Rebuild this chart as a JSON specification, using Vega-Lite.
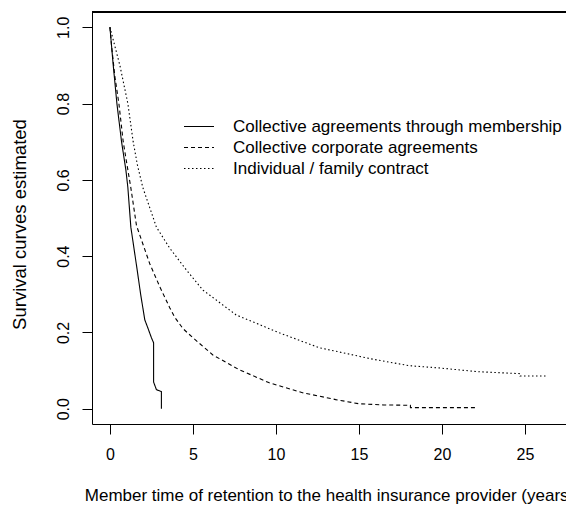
{
  "$schema": "https://vega.github.io/schema/vega-lite/v6.json",
  "autosize": {"type": "none"},
  "width": 474,
  "height": 412,
  "padding": {"left": 92, "top": 12, "right": 0, "bottom": 83},
  "background": "white",
  "config": {
    "view": {"stroke": null},
    "font": "Liberation Sans",
    "axis": {
      "grid": false,
      "domainColor": "black",
      "tickColor": "black",
      "tickSize": 10,
      "labelFont": "Liberation Sans",
      "labelFontSize": 16,
      "labelColor": "black",
      "titleFont": "Liberation Sans",
      "titleFontSize": 17,
      "titleFontWeight": "normal",
      "titleColor": "black"
    }
  },
  "data": {
    "values": [
      {"g": "Collective agreements through membership", "i": 1, "t": 0, "s": 1.0},
      {"g": "Collective agreements through membership", "i": 2, "t": 0.1, "s": 0.95},
      {"g": "Collective agreements through membership", "i": 3, "t": 0.2, "s": 0.9},
      {"g": "Collective agreements through membership", "i": 4, "t": 0.42, "s": 0.8},
      {"g": "Collective agreements through membership", "i": 5, "t": 0.7, "s": 0.7},
      {"g": "Collective agreements through membership", "i": 6, "t": 0.96, "s": 0.626},
      {"g": "Collective agreements through membership", "i": 7, "t": 1.08, "s": 0.58},
      {"g": "Collective agreements through membership", "i": 8, "t": 1.26, "s": 0.476},
      {"g": "Collective agreements through membership", "i": 9, "t": 1.45, "s": 0.42},
      {"g": "Collective agreements through membership", "i": 10, "t": 1.64, "s": 0.364},
      {"g": "Collective agreements through membership", "i": 11, "t": 1.85, "s": 0.3},
      {"g": "Collective agreements through membership", "i": 12, "t": 2.1, "s": 0.233},
      {"g": "Collective agreements through membership", "i": 13, "t": 2.3, "s": 0.21},
      {"g": "Collective agreements through membership", "i": 14, "t": 2.5, "s": 0.186},
      {"g": "Collective agreements through membership", "i": 15, "t": 2.63, "s": 0.173},
      {"g": "Collective agreements through membership", "i": 16, "t": 2.63, "s": 0.07},
      {"g": "Collective agreements through membership", "i": 17, "t": 2.8, "s": 0.05},
      {"g": "Collective agreements through membership", "i": 18, "t": 3.1, "s": 0.045},
      {"g": "Collective agreements through membership", "i": 19, "t": 3.1, "s": 0.0},
      {"g": "Collective corporate agreements", "i": 1, "t": 0, "s": 1.0},
      {"g": "Collective corporate agreements", "i": 2, "t": 0.1, "s": 0.95},
      {"g": "Collective corporate agreements", "i": 3, "t": 0.3, "s": 0.87},
      {"g": "Collective corporate agreements", "i": 4, "t": 0.54, "s": 0.8},
      {"g": "Collective corporate agreements", "i": 5, "t": 0.8, "s": 0.7},
      {"g": "Collective corporate agreements", "i": 6, "t": 1.08, "s": 0.626},
      {"g": "Collective corporate agreements", "i": 7, "t": 1.26, "s": 0.579},
      {"g": "Collective corporate agreements", "i": 8, "t": 1.6, "s": 0.48},
      {"g": "Collective corporate agreements", "i": 9, "t": 2.0, "s": 0.43},
      {"g": "Collective corporate agreements", "i": 10, "t": 2.4, "s": 0.38},
      {"g": "Collective corporate agreements", "i": 11, "t": 3.0, "s": 0.32},
      {"g": "Collective corporate agreements", "i": 12, "t": 3.6, "s": 0.265},
      {"g": "Collective corporate agreements", "i": 13, "t": 3.9, "s": 0.24},
      {"g": "Collective corporate agreements", "i": 14, "t": 4.4, "s": 0.21},
      {"g": "Collective corporate agreements", "i": 15, "t": 5.0, "s": 0.186},
      {"g": "Collective corporate agreements", "i": 16, "t": 6.2, "s": 0.141},
      {"g": "Collective corporate agreements", "i": 17, "t": 7.8, "s": 0.102},
      {"g": "Collective corporate agreements", "i": 18, "t": 9.6, "s": 0.068},
      {"g": "Collective corporate agreements", "i": 19, "t": 11.6, "s": 0.042},
      {"g": "Collective corporate agreements", "i": 20, "t": 13.6, "s": 0.024},
      {"g": "Collective corporate agreements", "i": 21, "t": 15.0, "s": 0.013},
      {"g": "Collective corporate agreements", "i": 22, "t": 16.5, "s": 0.01},
      {"g": "Collective corporate agreements", "i": 23, "t": 18.1, "s": 0.009},
      {"g": "Collective corporate agreements", "i": 24, "t": 18.1, "s": 0.003},
      {"g": "Collective corporate agreements", "i": 25, "t": 22.0, "s": 0.003},
      {"g": "Individual / family contract", "i": 1, "t": 0, "s": 1.0},
      {"g": "Individual / family contract", "i": 2, "t": 0.3, "s": 0.95},
      {"g": "Individual / family contract", "i": 3, "t": 0.6, "s": 0.9},
      {"g": "Individual / family contract", "i": 4, "t": 1.08, "s": 0.8},
      {"g": "Individual / family contract", "i": 5, "t": 1.4, "s": 0.7},
      {"g": "Individual / family contract", "i": 6, "t": 1.65, "s": 0.64},
      {"g": "Individual / family contract", "i": 7, "t": 1.98, "s": 0.58},
      {"g": "Individual / family contract", "i": 8, "t": 2.8, "s": 0.476},
      {"g": "Individual / family contract", "i": 9, "t": 3.6, "s": 0.421},
      {"g": "Individual / family contract", "i": 10, "t": 4.6, "s": 0.364},
      {"g": "Individual / family contract", "i": 11, "t": 5.6, "s": 0.311},
      {"g": "Individual / family contract", "i": 12, "t": 6.0, "s": 0.298},
      {"g": "Individual / family contract", "i": 13, "t": 7.6, "s": 0.246},
      {"g": "Individual / family contract", "i": 14, "t": 10.2, "s": 0.199},
      {"g": "Individual / family contract", "i": 15, "t": 12.6, "s": 0.16},
      {"g": "Individual / family contract", "i": 16, "t": 13.8, "s": 0.149},
      {"g": "Individual / family contract", "i": 17, "t": 15.7, "s": 0.131},
      {"g": "Individual / family contract", "i": 18, "t": 18.0, "s": 0.113},
      {"g": "Individual / family contract", "i": 19, "t": 19.8, "s": 0.107},
      {"g": "Individual / family contract", "i": 20, "t": 22.2, "s": 0.097},
      {"g": "Individual / family contract", "i": 21, "t": 24.7, "s": 0.092},
      {"g": "Individual / family contract", "i": 22, "t": 24.7, "s": 0.086},
      {"g": "Individual / family contract", "i": 23, "t": 26.3, "s": 0.086}
    ]
  },
  "layer": [
    {
      "mark": {"type": "rule", "color": "black", "strokeWidth": 1},
      "encoding": {"y": {"datum": 1.04, "type": "quantitative"}}
    },
    {
      "mark": {"type": "line", "color": "black", "strokeWidth": 1.1},
      "encoding": {
        "x": {
          "field": "t",
          "type": "quantitative",
          "scale": {"domain": [-1.08, 27.47], "nice": false, "zero": false},
          "axis": {
            "values": [0, 5, 10, 15, 20, 25],
            "labelPadding": 12,
            "titlePadding": 25,
            "title": "Member time of retention to the health insurance provider (years)"
          }
        },
        "y": {
          "field": "s",
          "type": "quantitative",
          "scale": {"domain": [-0.04, 1.04], "nice": false, "zero": false},
          "axis": {
            "values": [0, 0.2, 0.4, 0.6, 0.8, 1.0],
            "format": ".1f",
            "labelAngle": -90,
            "labelAlign": "center",
            "labelBaseline": "alphabetic",
            "labelPadding": 14,
            "titlePadding": 26,
            "titleFontSize": 18.5,
            "titleY": 212,
            "title": "Survival curves estimated"
          }
        },
        "strokeDash": {
          "field": "g",
          "type": "nominal",
          "scale": {
            "domain": ["Collective agreements through membership", "Collective corporate agreements", "Individual / family contract"],
            "range": [[1, 0], [4, 3], [1.5, 2.5]]
          },
          "legend": {
            "orient": "none",
            "legendX": 91,
            "legendY": 104,
            "title": null,
            "symbolType": "stroke",
            "symbolSize": 900,
            "symbolStrokeColor": "black",
            "symbolStrokeWidth": 1.1,
            "labelFont": "Liberation Sans",
            "labelFontSize": 17,
            "labelColor": "black",
            "labelOffset": 18,
            "labelLimit": 0,
            "clipHeight": 21,
            "rowPadding": 0
          }
        },
        "order": {"field": "i", "type": "quantitative"}
      }
    }
  ]
}
